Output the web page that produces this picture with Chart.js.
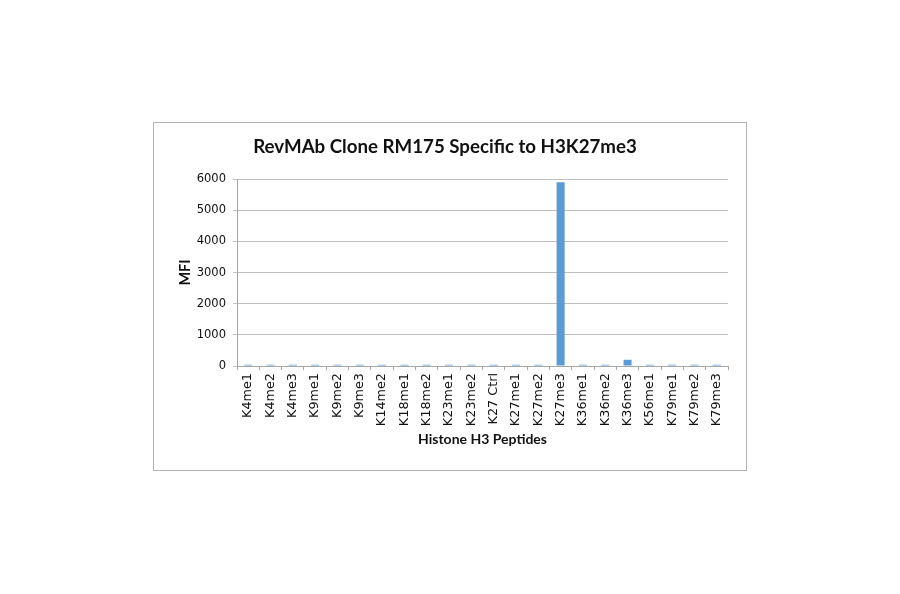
<!DOCTYPE html>
<html>
<head>
<meta charset="utf-8">
<script src="https://cdn.jsdelivr.net/npm/chart.js@4"></script>
<style>
html,body{margin:0;padding:0;background:#fff;}
#wrap{position:relative;width:900px;height:594px;}
#box{position:absolute;left:153px;top:122px;width:592px;height:347px;border:1px solid #b4b4b4;box-sizing:content-box;pointer-events:none;}
canvas{position:absolute;left:0;top:0;}
</style>
</head>
<body>
<div id="wrap">
<canvas id="c" width="900" height="594"></canvas>
<div id="box"></div>
</div>
<script>
const chartTitle = "RevMAb Clone RM175 Specific to H3K27me3";
const xTitle = "Histone H3 Peptides";
const yTitle = "MFI";
const categories = ["K4me1","K4me2","K4me3","K9me1","K9me2","K9me3","K14me2","K18me1","K18me2","K23me1","K23me2","K27 Ctrl","K27me1","K27me2","K27me3","K36me1","K36me2","K36me3","K56me1","K79me1","K79me2","K79me3"];
const mfiValues = [40,40,40,40,40,40,40,40,40,40,40,40,40,40,5900,40,40,200,40,40,40,40];
const yTicks = [0,1000,2000,3000,4000,5000,6000];

const ctx = document.getElementById('c').getContext('2d');
new Chart(ctx, {
  type: 'bar',
  data: {
    labels: categories,
    datasets: [{
      label: yTitle,
      data: mfiValues,
      backgroundColor: '#5b9bd5',
      borderWidth: 0,
      barPercentage: 0.72,
      categoryPercentage: 0.5
    }]
  },
  options: {
    responsive: false,
    animation: false,
    devicePixelRatio: 1,
    layout: { padding: { left: 162, right: 172, top: 124, bottom: 146 } },
    plugins: {
      legend: { display: false },
      tooltip: { enabled: false },
      title: {
        display: true,
        text: chartTitle,
        color: '#111111',
        font: { family: 'Lato', size: 18.7, weight: 'bold' },
        padding: { top: 12, bottom: 20.6 }
      }
    },
    scales: {
      x: {
        grid: { display: true, offset: true, drawOnChartArea: false, drawTicks: true, tickLength: 4, color: '#a6a6a6' },
        border: { display: true, color: '#a6a6a6', width: 1 },
        ticks: {
          autoSkip: false, minRotation: 90, maxRotation: 90, padding: 3,
          color: '#111111', font: { family: 'DejaVu Sans', size: 12.8 }
        },
        title: {
          display: true, text: xTitle, color: '#111111',
          font: { family: 'Lato', size: 14, weight: 'bold' },
          padding: { top: 0, bottom: 0 }
        },
        afterFit: (s) => { s.height = 82; }
      },
      y: {
        min: 0, max: 6000,
        afterBuildTicks: (s) => { s.ticks = yTicks.map(v => ({ value: v })); },
        grid: { color: '#bfbfbf', lineWidth: 1, drawTicks: true, tickLength: 4 },
        border: { display: true, color: '#a6a6a6', width: 1 },
        ticks: {
          padding: 7, color: '#111111', font: { family: 'DejaVu Sans', size: 11.5 },
          callback: (v) => String(v)
        },
        title: {
          display: true, text: yTitle, color: '#111111',
          font: { family: 'Lato', size: 14.5, weight: 'bold' },
          padding: { top: 15, bottom: 0 }
        },
        afterFit: (s) => { s.width = 75; }
      }
    }
  }
});
</script>
</body>
</html>
